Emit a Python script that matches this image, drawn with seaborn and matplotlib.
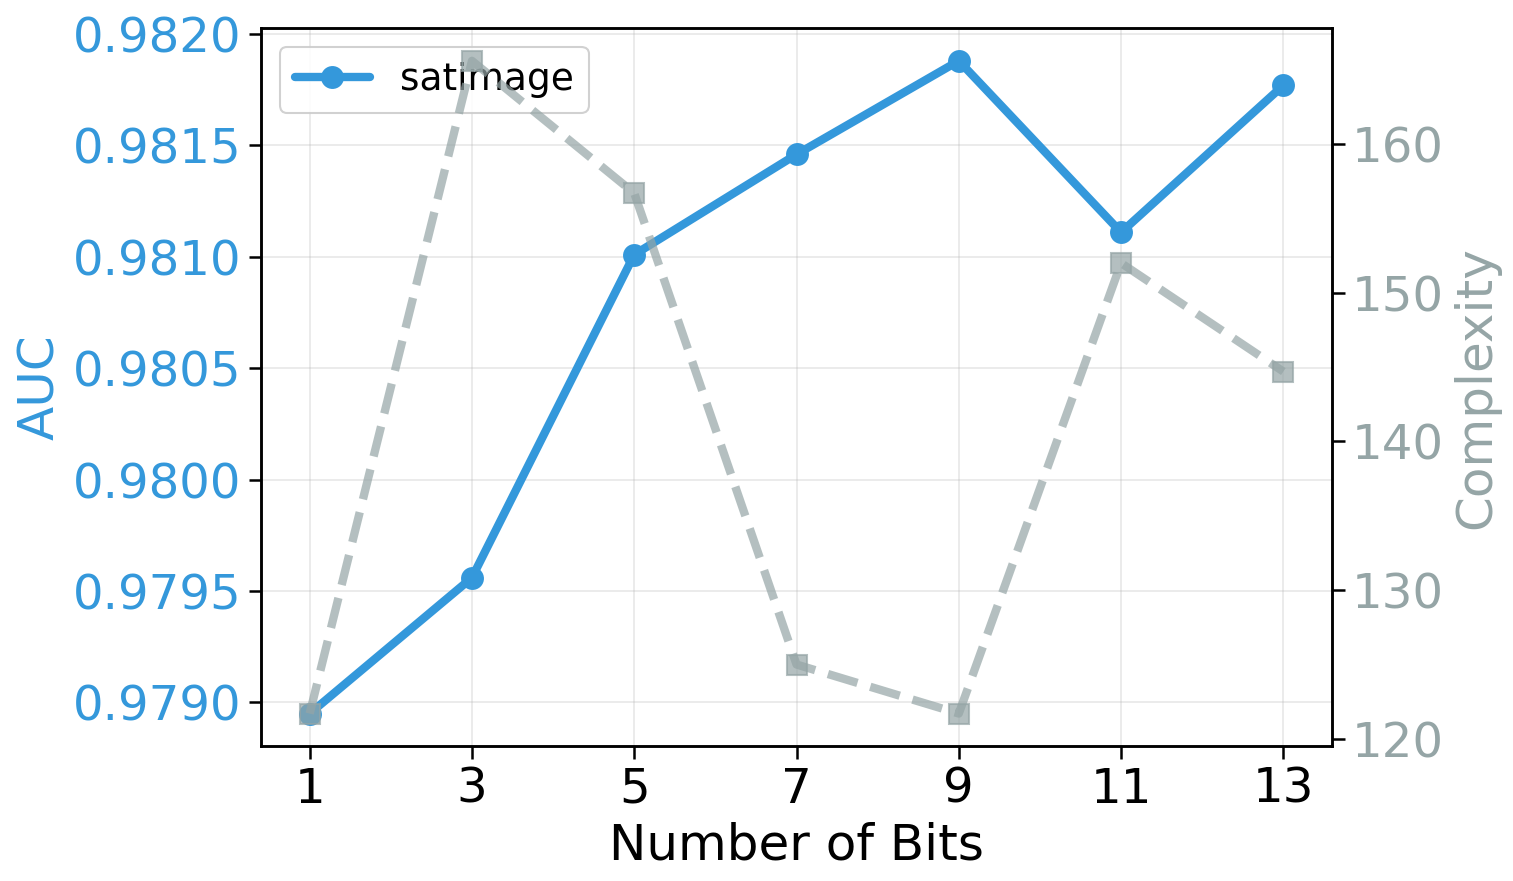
import numpy as np
import pandas as pd
import seaborn as sns
import matplotlib.pyplot as plt

# values
bits = [1, 3, 5, 7, 9, 11, 13]
auc = [0.97895, 0.97956, 0.98101, 0.98146, 0.98188, 0.98111, 0.98177]
complexity = [121.7, 165.6, 156.7, 125.0, 121.7, 152.0, 144.7]
dataset = 'satimage'

df = pd.DataFrame({'bits': bits, 'auc': auc, 'complexity': complexity})

blue = '#3498db'
gray = '#95a5a6'

sns.set_style('ticks', {'axes.labelcolor': 'black', 'text.color': 'black',
                        'xtick.color': 'black', 'ytick.color': 'black'})
plt.rcParams['font.family'] = ['DejaVu Sans']

fig, ax1 = plt.subplots(figsize=(1513 / 150, 881 / 150), dpi=150)
fig.subplots_adjust(left=0.1725, right=0.8804, top=0.968, bottom=0.153)

sns.lineplot(data=df, x='bits', y='auc', ax=ax1, color=blue, marker='o',
             markersize=11, linewidth=4, markeredgewidth=0, label=dataset)
ax1.set_xlabel('Number of Bits', fontsize=24, color='black')
ax1.set_ylabel('AUC', fontsize=24, color=blue)
ax1.tick_params(axis='y', labelcolor=blue, labelsize=23.2, length=6, width=1.2)
ax1.tick_params(axis='x', labelsize=23.2, length=6, width=1.2, labelcolor='black')
ax1.set_xticks(bits)
ax1.grid(True, color='#b0b0b0', alpha=0.3)
leg = ax1.legend(loc='upper left', fontsize=18, framealpha=0.9)
for t in leg.get_texts():
    t.set_color('black')

ax2 = ax1.twinx()
sns.lineplot(data=df, x='bits', y='complexity', ax=ax2, color=gray, marker='s',
             markersize=10, linewidth=4, linestyle='--', alpha=0.7,
             markeredgewidth=1, markeredgecolor=gray)
ax2.set_ylabel('Complexity', fontsize=24, color=gray)
ax2.tick_params(axis='y', labelcolor=gray, labelsize=23.2, length=6, width=1.2)
ax2.set_xlabel('')

for a in (ax1, ax2):
    for s in a.spines.values():
        s.set_color('black')
        s.set_linewidth(1.2)

fig.savefig('out.png', dpi=150)
